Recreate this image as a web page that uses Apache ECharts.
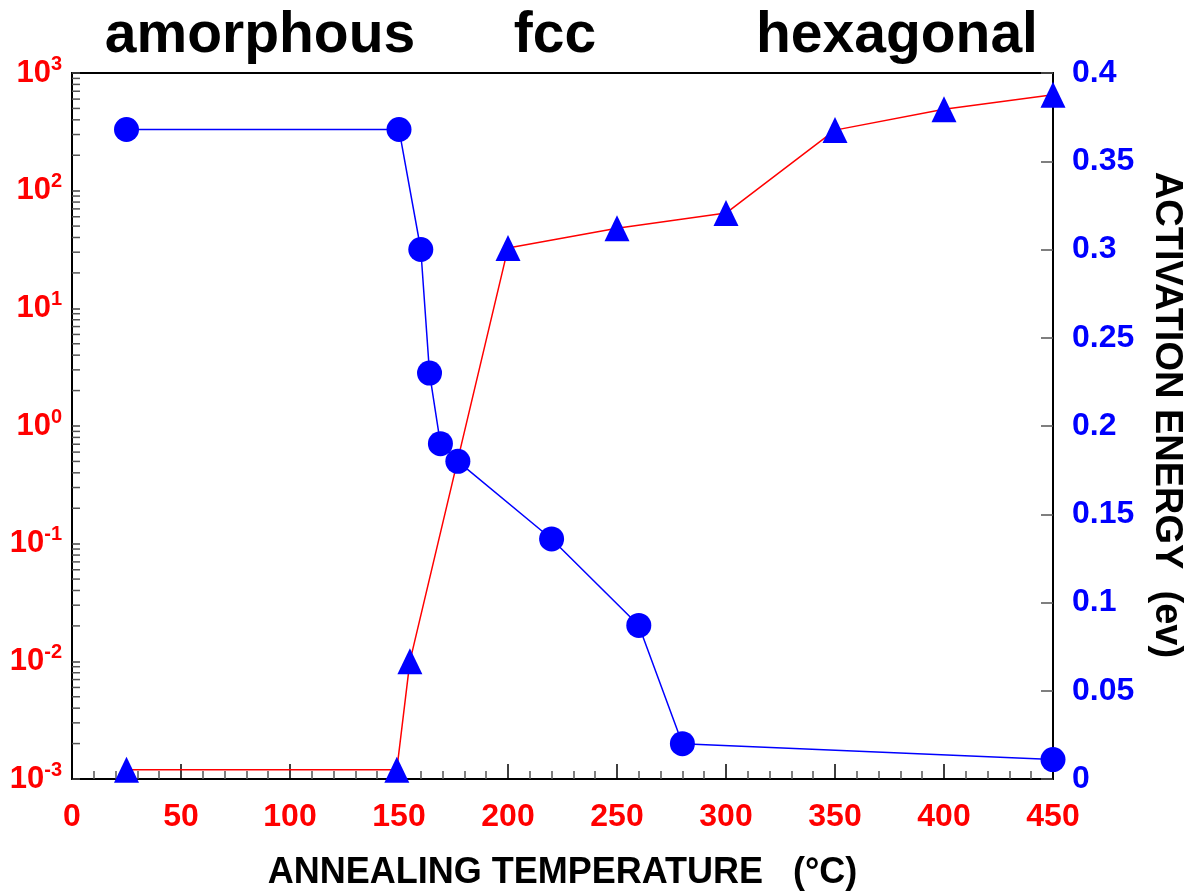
<!DOCTYPE html>
<html>
<head>
<meta charset="utf-8">
<script src="https://cdn.jsdelivr.net/npm/echarts@6/dist/echarts.min.js"></script>
<style>
  html, body { margin: 0; padding: 0; background: #fff; }
  #main { width: 1185px; height: 895px; }
</style>
</head>
<body>
<div id="main"></div>
<script>
// 三角形：左轴（对数）
const triTemp = [25, 149, 155, 200, 250, 300, 350, 400, 450];
const triValue = [0.0012, 0.0012, 0.0100, 32.5, 48, 64.5, 327, 492, 654];
// 圆点：右轴（激活能 eV）
const dotTemp = [25, 150, 160, 164, 169, 177, 220, 260, 280, 450];
const dotValue = [0.368, 0.368, 0.300, 0.230, 0.190, 0.180, 0.136, 0.087, 0.020, 0.011];
// 对数轴的小刻度
const logDecades = [-3, -2, -1, 0, 1, 2];
const logMantissas = [2, 3, 4, 5, 6, 7, 8, 9];
// 顶部相区标签
const phaseLabels = ['amorphous', 'fcc', 'hexagonal'];
const phaseCenters = [260, 555, 897];

const FONT = '"Liberation Sans", Arial, sans-serif';
const RED = '#ff0000';
const BLUE = '#0000ff';

let minorTicks = [];
logDecades.forEach(d => {
    logMantissas.forEach(m => {
        minorTicks.push([0, m * Math.pow(10, d)]);
    });
});

let myChart = echarts.init(document.getElementById('main'));
myChart.setOption({
    animation: false,
    backgroundColor: '#fff',
    grid: {
        left: 72,
        right: 132,
        top: 73,
        bottom: 116,
        outerBoundsMode: 'none',
        containLabel: false,
        show: true,
        borderColor: '#000',
        borderWidth: 2
    },
    graphic: phaseLabels.map((t, i) => ({
        type: 'text',
        x: phaseCenters[i],
        y: 36,
        style: {
            text: t,
            fill: '#000',
            font: 'bold 57px ' + FONT,
            textAlign: 'center',
            textVerticalAlign: 'middle'
        }
    })),
    xAxis: {
        type: 'value',
        min: 0,
        max: 450,
        interval: 50,
        name: 'ANNEALING TEMPERATURE   (°C)',
        nameLocation: 'middle',
        nameGap: 76,
        nameTextStyle: { color: '#000', fontSize: 36, fontWeight: 'bold', fontFamily: FONT },
        axisLine: { lineStyle: { color: '#000', width: 2 } },
        axisTick: { inside: true, length: 15, lineStyle: { color: '#000', width: 1.5 } },
        minorTick: { show: true, splitNumber: 5, length: 8, lineStyle: { color: '#555', width: 1.5 } },
        axisLabel: { color: RED, fontSize: 32, fontWeight: 'bold', fontFamily: FONT, margin: 22 },
        splitLine: { show: false }
    },
    yAxis: [
        {
            type: 'log',
            logBase: 10,
            min: 0.001,
            max: 1000,
            position: 'left',
            axisLine: { show: true, lineStyle: { color: '#000', width: 2 } },
            axisTick: { inside: true, length: 8, lineStyle: { color: '#444', width: 1.5 } },
            axisLabel: {
                margin: 10,
                formatter: function (v) {
                    let e = Math.round(Math.log10(v));
                    return '{b|10}{s|' + e + '}';
                },
                rich: {
                    b: { color: RED, fontSize: 31, fontWeight: 'bold', fontFamily: FONT },
                    s: { color: RED, fontSize: 20, fontWeight: 'bold', fontFamily: FONT, verticalAlign: 'bottom', padding: [0, 0, 18, 0] }
                }
            },
            splitLine: { show: false }
        },
        {
            type: 'value',
            min: 0,
            max: 0.4,
            interval: 0.05,
            position: 'right',
            name: 'ACTIVATION ENERGY  (ev)',
            nameLocation: 'middle',
            nameRotate: -90,
            nameGap: 94,
            nameTextStyle: { color: '#000', fontSize: 38, fontWeight: 'bold', fontFamily: FONT, padding: [0, 22, 0, 0] },
            axisLine: { show: true, lineStyle: { color: '#000', width: 2 } },
            axisTick: { inside: true, length: 12, lineStyle: { color: '#555', width: 1.5 } },
            axisLabel: { color: BLUE, fontSize: 32, fontWeight: 'bold', fontFamily: FONT, margin: 19 },
            splitLine: { show: false }
        }
    ],
    series: [
        {
            type: 'custom',
            silent: true,
            yAxisIndex: 0,
            encode: { x: 0, y: 1 },
            data: minorTicks,
            renderItem: function (params, api) {
                let p = api.coord([0, api.value(1)]);
                return {
                    type: 'line',
                    shape: { x1: p[0], y1: p[1], x2: p[0] + 8, y2: p[1] },
                    style: { stroke: '#555', lineWidth: 1.5 }
                };
            }
        },
        {
            name: 'log',
            type: 'line',
            yAxisIndex: 0,
            data: triTemp.map((x, i) => [x, triValue[i]]),
            symbol: 'triangle',
            symbolSize: [25, 26],
            itemStyle: { color: BLUE },
            lineStyle: { color: RED, width: 1.5 },
            z: 3
        },
        {
            name: 'energy',
            type: 'line',
            yAxisIndex: 1,
            data: dotTemp.map((x, i) => [x, dotValue[i]]),
            symbol: 'circle',
            symbolSize: 25,
            itemStyle: { color: BLUE },
            lineStyle: { color: BLUE, width: 1.5 },
            z: 4
        }
    ]
});
</script>
</body>
</html>
